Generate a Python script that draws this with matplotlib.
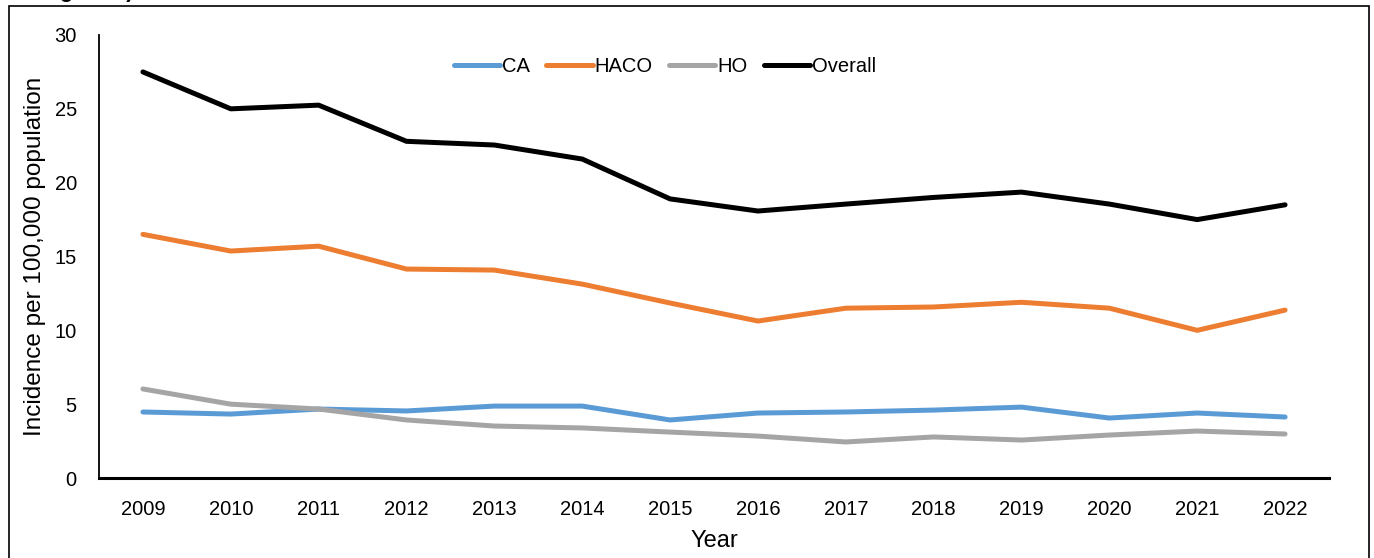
import matplotlib
matplotlib.use("Agg")
import matplotlib.pyplot as plt
from matplotlib.patches import Rectangle

years = [2009, 2010, 2011, 2012, 2013, 2014, 2015, 2016, 2017, 2018, 2019, 2020, 2021, 2022]
ca = [4.47, 4.33, 4.67, 4.54, 4.87, 4.87, 3.93, 4.40, 4.47, 4.60, 4.80, 4.06, 4.40, 4.13]
haco = [16.5, 15.37, 15.7, 14.15, 14.08, 13.13, 11.85, 10.63, 11.5, 11.58, 11.9, 11.5, 10.0, 11.37]
ho = [6.03, 5.0, 4.67, 3.93, 3.52, 3.39, 3.11, 2.84, 2.44, 2.78, 2.57, 2.91, 3.18, 2.98]
overall = [27.5, 25.0, 25.25, 22.8, 22.55, 21.6, 18.9, 18.08, 18.55, 19.0, 19.36, 18.55, 17.5, 18.5]
series_names = ["CA", "HACO", "HO", "Overall"]
colors = ["#5B9BD5", "#ED7D31", "#A5A5A5", "#000000"]

plt.rcParams['font.family'] = ['Liberation Sans', 'DejaVu Sans']

fig = plt.figure(figsize=(13.74, 5.58), dpi=100)
ax = fig.add_axes([99/1374, 1-478/558, (1329-99)/1374, (478-35)/558])

x = list(range(len(years)))
for name, vals, c in zip(series_names, [ca, haco, ho, overall], colors):
    ax.plot(x, vals, color=c, lw=3.6, label=name, solid_capstyle='round', solid_joinstyle='round')

ax.set_xlim(-0.5, len(years) - 0.5)
ax.set_ylim(0, 30)
ax.set_yticks([0, 5, 10, 15, 20, 25, 30])
ax.set_xticks(x)
ax.set_xticklabels([str(y) for y in years])
ax.tick_params(axis='both', length=0, labelsize=14.5)
ax.tick_params(axis='y', pad=16)
ax.tick_params(axis='x', pad=16)
for s in ['top', 'right']:
    ax.spines[s].set_visible(False)
ax.spines['left'].set_linewidth(1.3)
ax.spines['bottom'].set_linewidth(2.2)
ax.set_ylabel("Incidence per 100,000 population", fontsize=17.5, labelpad=6)
ax.set_xlabel("Year", fontsize=17, labelpad=8)

leg = fig.legend(*ax.get_legend_handles_labels(), loc='center',
                 bbox_to_anchor=(665/1374, 1 - 67/558), ncol=4, frameon=False,
                 fontsize=14.5, handlelength=2.3, handletextpad=0.1, columnspacing=0.8)

fig.patches.append(Rectangle((9/1374, -0.02), (1369-9)/1374, (558-6)/558 + 0.02,
                             transform=fig.transFigure, fill=False, edgecolor='black', lw=1.2))
fig.text(40/1374, 1.0 + 3/558, "Figure 3)", fontsize=16, fontweight='bold', va='baseline', ha='left')

fig.savefig("out.png", dpi=100)
